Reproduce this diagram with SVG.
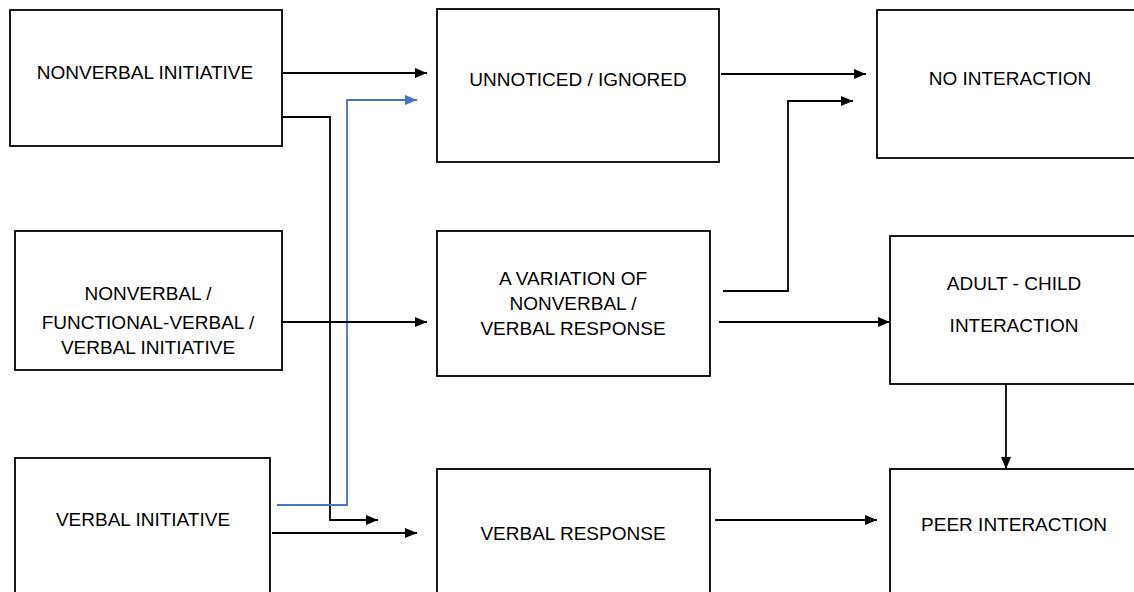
<svg xmlns="http://www.w3.org/2000/svg" width="1134" height="592" viewBox="0 0 1134 592">
<style>
.box{fill:#fff;stroke:#000;stroke-width:1.8}
.t{font-family:"Liberation Sans",Arial,sans-serif;font-size:19px;fill:#000;text-anchor:middle}
.c{fill:none;stroke:#000;stroke-width:1.8}
.b{fill:none;stroke:#4472c4;stroke-width:1.8}
</style>
<defs>
<marker id="ah" viewBox="0 0 12 10" refX="12" refY="5" markerWidth="12" markerHeight="10" markerUnits="userSpaceOnUse" orient="auto">
<path d="M0,0 L12,5 L0,10 Z" fill="#000"/>
</marker>
<marker id="ahb" viewBox="0 0 12 10" refX="12" refY="5" markerWidth="12" markerHeight="10" markerUnits="userSpaceOnUse" orient="auto">
<path d="M0,0 L12,5 L0,10 Z" fill="#4472c4"/>
</marker>
</defs>
<rect width="1134" height="592" fill="#fff"/>
<g id="connectors">
<path class="c" d="M283,73 H427" marker-end="url(#ah)"/>
<path class="c" d="M283,117 H330 V520 H378" marker-end="url(#ah)"/>
<path class="b" d="M277,505 H347 V100 H417" marker-end="url(#ahb)"/>
<path class="c" d="M272,533 H417" marker-end="url(#ah)"/>
<path class="c" d="M282,322 H427" marker-end="url(#ah)"/>
<path class="c" d="M721,74 H866" marker-end="url(#ah)"/>
<path class="c" d="M723,291 H788 V101 H853" marker-end="url(#ah)"/>
<path class="c" d="M719,322 H890" marker-end="url(#ah)"/>
<path class="c" d="M1006,384 V469" marker-end="url(#ah)"/>
<path class="c" d="M715,520 H877" marker-end="url(#ah)"/>
</g>
<g id="n1"><rect class="box" x="10" y="10" width="272" height="136"/><text class="t" x="145" y="79">NONVERBAL INITIATIVE</text></g>
<g id="n2"><rect class="box" x="437" y="9" width="282" height="153"/><text class="t" x="578" y="86">UNNOTICED / IGNORED</text></g>
<g id="n3"><rect class="box" x="877" y="10" width="270" height="148"/><text class="t" x="1010" y="85">NO INTERACTION</text></g>
<g id="n4"><rect class="box" x="15" y="231" width="267" height="139"/><text class="t" x="148" y="300">NONVERBAL /</text><text class="t" x="148" y="329">FUNCTIONAL-VERBAL /</text><text class="t" x="148" y="354">VERBAL INITIATIVE</text></g>
<g id="n5"><rect class="box" x="437" y="231" width="273" height="145"/><text class="t" x="573" y="285">A VARIATION OF</text><text class="t" x="573" y="310">NONVERBAL /</text><text class="t" x="573" y="335">VERBAL RESPONSE</text></g>
<g id="n6"><rect class="box" x="890" y="236" width="260" height="148"/><text class="t" x="1014" y="290">ADULT - CHILD</text><text class="t" x="1014" y="332">INTERACTION</text></g>
<g id="n7"><rect class="box" x="15" y="458" width="255" height="150"/><text class="t" x="143" y="526">VERBAL INITIATIVE</text></g>
<g id="n8"><rect class="box" x="437" y="469" width="273" height="140"/><text class="t" x="573" y="540">VERBAL RESPONSE</text></g>
<g id="n9"><rect class="box" x="890" y="469" width="260" height="140"/><text class="t" x="1014" y="531">PEER INTERACTION</text></g>
</svg>
